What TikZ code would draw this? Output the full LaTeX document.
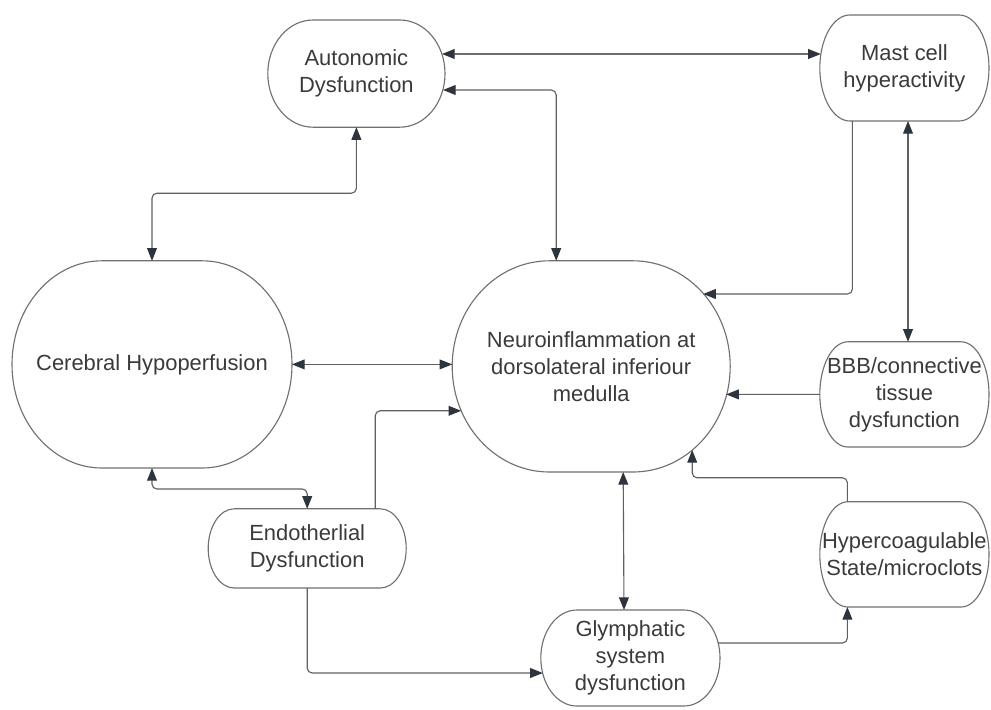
\documentclass[tikz,border=0pt]{standalone}
\usepackage{fontspec}
\setmainfont{Liberation Sans}
\usepackage{tikz}
\usetikzlibrary{arrows.meta, positioning, calc}
\usepackage{xcolor}
\definecolor{LN}{RGB}{96,96,96}
\definecolor{HD}{RGB}{46,52,62}
\definecolor{TX}{RGB}{58,58,58}
\definecolor{DG}{RGB}{30,30,30}

\begin{document}
\begin{tikzpicture}[
  blob/.style 2 args={minimum width=#1cm, minimum height=#2cm,
               inner sep=0pt, outer sep=0pt, align=center, text=TX,
               font=\fontsize{15.6pt}{19.2pt}\selectfont},
  rim/.style={draw=LN!90, line width=0.8pt},
  link/.style={draw=LN, line width=0.8pt, rounded corners=3.5pt},
  fwd/.style={link, -{Triangle[length=9pt, width=7pt, color=HD]}},
  dbl/.style={link, {Triangle[length=9pt, width=7pt, color=HD]}-{Triangle[length=9pt, width=7pt, color=HD]}}
]
\useasboundingbox (0,0) rectangle (24.775,-17.725);

\node[blob={4.43}{2.68}] (aut)  at (8.91,-1.84)   {Autonomic\\Dysfunction};
\node[blob={4.23}{2.65}] (mast) at (22.61,-1.70)  {Mast cell\\hyperactivity};
\node[blob={7.00}{5.18}] (cer)  at (3.80,-9.11)   {Cerebral Hypoperfusion};
\node[blob={6.95}{5.28}] (neu)  at (14.78,-9.16)  {Neuroinflammation at\\dorsolateral inferiour\\medulla};
\node[blob={4.23}{2.63}] (bbb)  at (22.61,-9.86)  {BBB/connective\\tissue\\dysfunction};
\node[blob={4.23}{2.63}] (hyp)  at (22.61,-13.86) {Hypercoagulable\\State/microclots};
\node[blob={4.95}{1.98}] (endo) at (7.68,-13.71)  {Endotherlial\\Dysfunction};
\node[blob={4.48}{2.40}] (gly)  at (15.76,-16.45) {Glymphatic\\system\\dysfunction};

% Outlines with elliptic ends
\foreach \nd/\rad in {aut/1.13, mast/0.75, cer/2.25, neu/2.43, bbb/0.7, hyp/0.7, endo/0.65, gly/0.9}
  \draw[rim] let \p1 = ($(\nd.north)-(\nd.center)$) in
    ($(\nd.north west)+(\rad,0)$) -- ($(\nd.north east)+(-\rad,0)$)
    arc[start angle=90, end angle=-90, x radius=\rad cm, y radius=\y1]
    -- ($(\nd.south west)+(\rad,0)$)
    arc[start angle=270, end angle=90, x radius=\rad cm, y radius=\y1] -- cycle;

% Top row
\draw[dbl, draw=DG] ($(aut.east)+(-0.075,0.49)$) -- ($(mast.west)+(0.025,0.35)$);
\draw[dbl] ($(aut.east)+(-0.05,-0.41)$) -| ($(neu.north)+(-0.875,0)$);
\draw[dbl] (aut.south) -- ++(0,-1.65) -| (cer.north);
\draw[fwd] ($(mast.south)+(-1.3,0)$) |- ($(neu.center)+(2.8,1.81)$);
\draw[dbl] ($(mast.south)+(0.09,0)$) -- ($(bbb.north)+(0.09,0)$);

% Into the centre
\draw[fwd] (bbb.west) -- ($(neu.east)+(-0.1,-0.7)$);
\draw[dbl] (cer.east) -- (cer.east -| neu.west);
\draw[fwd] ($(endo.north)+(1.7,0)$) |- ($(neu.west)+(0.225,-1.11)$);
\draw[fwd] ($(hyp.north)+(-1.425,0)$) -- ++(0,0.6) -| ($(neu.center)+(2.525,-2.09)$);

% Bottom row
\draw[dbl] (cer.south) -- ++(0,-0.525) -| (endo.north);
\draw[fwd] (endo.south) |- ($(gly.west)+(0.05,-0.375)$);
\draw[dbl] ($(neu.south)+(0.8,0)$) -- ($(gly.north)+(-0.16,0)$);
\draw[fwd] ($(gly.east)+(-0.05,0.375)$) -| ($(hyp.south)+(-1.425,0)$);
\end{tikzpicture}
\end{document}
